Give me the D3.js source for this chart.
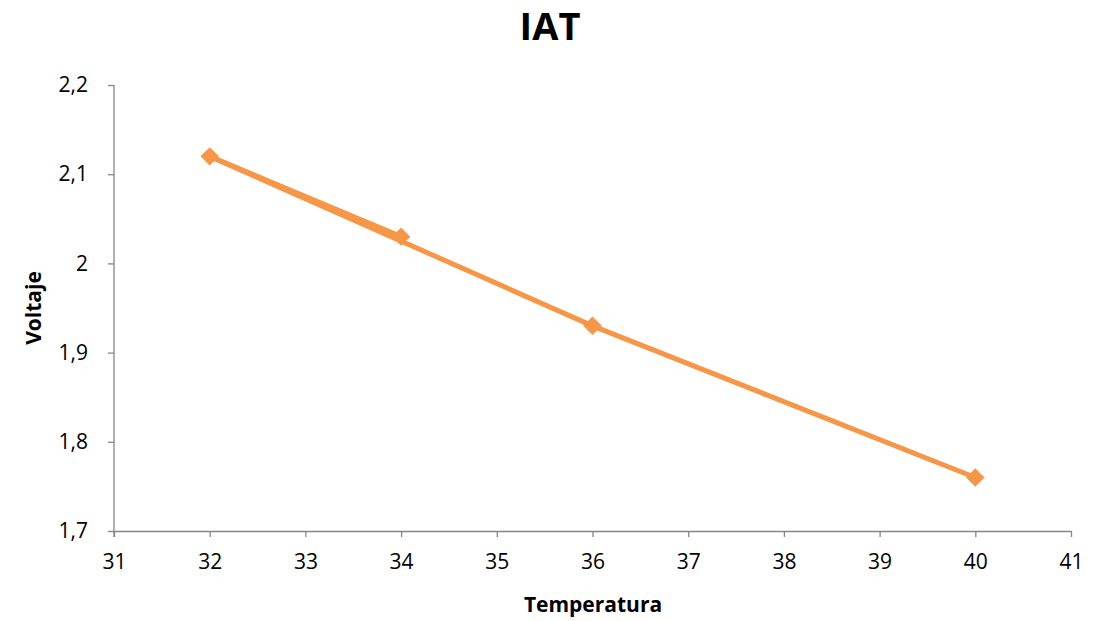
<!DOCTYPE html>
<html>
<head>
<meta charset="utf-8">
<script src="https://cdn.jsdelivr.net/npm/d3@7"></script>
<style>
  html, body { margin: 0; padding: 0; background: #fff; }
  svg { display: block; font-family: "Open Sans", "Liberation Sans", sans-serif; }
</style>
</head>
<body>
<svg id="chart" width="1106" height="621"></svg>
<script>
// Series in the order it was entered (temperature °C, voltage V)
const temperatura = [34, 32, 36, 40];
const voltaje = [2.03, 2.12, 1.93, 1.76];

const xTicks = [31, 32, 33, 34, 35, 36, 37, 38, 39, 40, 41];
const yTicks = [1.7, 1.8, 1.9, 2.0, 2.1, 2.2];

const titleText = "IAT";
const xTitle = "Temperatura";
const yTitle = "Voltaje";

(function draw() {
  const svg = d3.select("#chart");
  const plotLeft = 114, plotRight = 1071, plotTop = 85, plotBottom = 531;

  const x = d3.scaleLinear().domain([31, 41]).range([plotLeft, plotRight]);
  const y = d3.scaleLinear().domain([1.7, 2.2]).range([plotBottom, plotTop]);

  const fmt = d => String(+d.toFixed(1)).replace(".", ",");
  const axisColor = "#868686";

  // X axis
  const gx = svg.append("g")
    .attr("transform", `translate(0,${plotBottom})`)
    .call(d3.axisBottom(x).tickValues(xTicks).tickSize(6).tickSizeOuter(0).tickPadding(17).tickFormat(d => d));
  // Y axis
  const gy = svg.append("g")
    .attr("transform", `translate(${plotLeft},0)`)
    .call(d3.axisLeft(y).tickValues(yTicks).tickSize(6).tickSizeOuter(0).tickPadding(20).tickFormat(fmt));

  [gx, gy].forEach(g => {
    g.attr("font-family", null).attr("font-size", null);
    g.select(".domain").attr("stroke", axisColor).attr("stroke-width", 1.3);
    g.selectAll(".tick line").attr("stroke", axisColor).attr("stroke-width", 1.3);
    g.selectAll(".tick text").attr("fill", "#000").attr("font-size", 21);
  });
  // y axis line runs down past the x axis by the tick length
  gy.select(".domain").attr("d", `M0,${plotTop}V${plotBottom + 6}`);

  const color = "#F79646";
  const pts = temperatura.map((t, i) => [t, voltaje[i]]);

  svg.append("path")
    .datum(pts)
    .attr("fill", "none")
    .attr("stroke", color)
    .attr("stroke-width", 5)
    .attr("stroke-linejoin", "round")
    .attr("d", d3.line().x(d => x(d[0])).y(d => y(d[1])));

  svg.append("g").selectAll("path")
    .data(pts)
    .join("path")
    .attr("d", d3.symbol(d3.symbolSquare, 170)())
    .attr("transform", d => `translate(${x(d[0])},${y(d[1])}) rotate(45)`)
    .attr("fill", color);

  // Titles
  svg.append("text")
    .attr("x", 550).attr("y", 40)
    .attr("text-anchor", "middle")
    .attr("font-size", 38).attr("font-weight", "bold")
    .text(titleText);

  svg.append("text")
    .attr("x", 593).attr("y", 612)
    .attr("text-anchor", "middle")
    .attr("font-size", 21).attr("font-weight", "bold")
    .text(xTitle);

  svg.append("text")
    .attr("transform", "translate(41,308) rotate(-90)")
    .attr("text-anchor", "middle")
    .attr("font-size", 21).attr("font-weight", "bold")
    .text(yTitle);
})();
</script>
</body>
</html>
